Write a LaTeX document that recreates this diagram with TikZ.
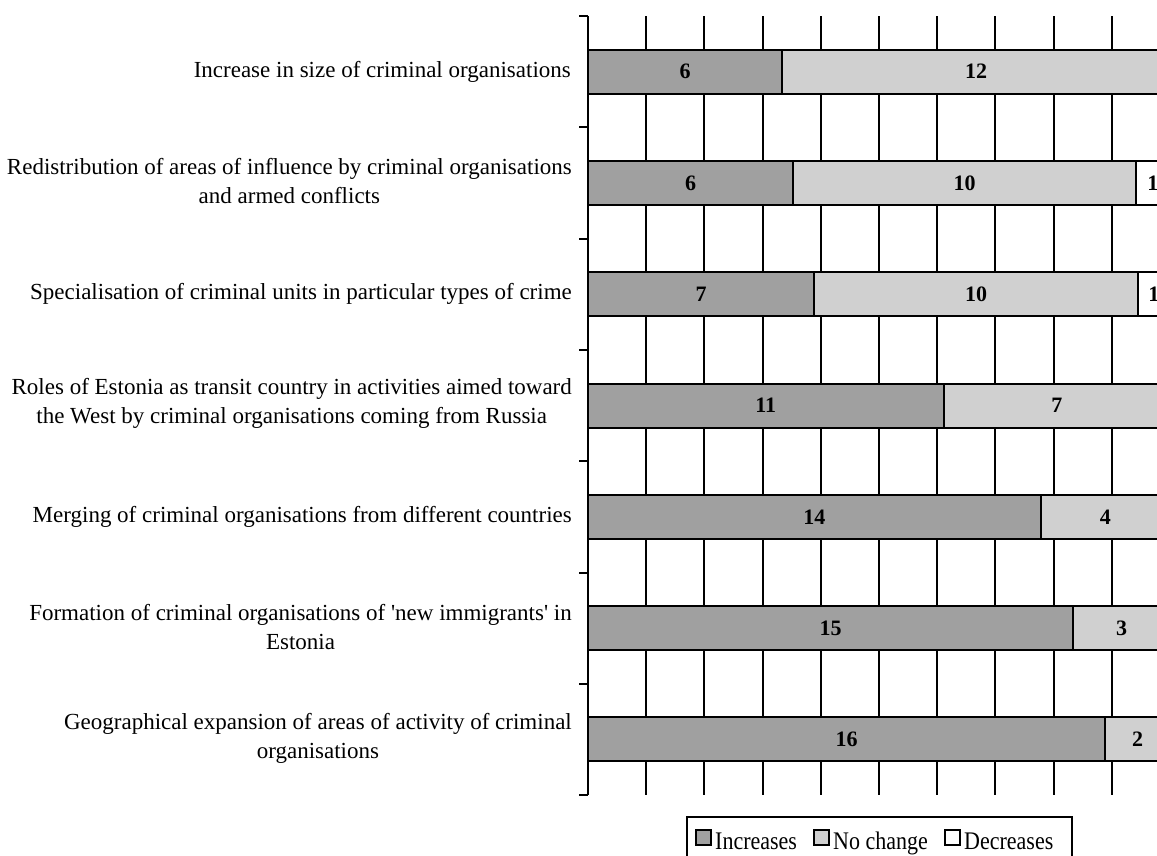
\documentclass[tikz,border=0pt]{standalone}
\usepackage{fontspec}
\setmainfont{Liberation Serif}
\usetikzlibrary{positioning}
\definecolor{incgray}{RGB}{160,160,160}
\definecolor{nochgray}{RGB}{208,208,208}
\newcommand{\legword}[1]{\scalebox{1}[1.15]{#1}}

\begin{document}
\begin{tikzpicture}[x=1pt, y=-1pt,
  catlabel/.style={anchor=east, align=center, inner sep=0pt, font=\fontsize{23}{29}\selectfont},
  barval/.style={inner sep=0pt, font=\fontsize{22}{26}\selectfont\bfseries},
  legtext/.style={anchor=base west, inner sep=0pt, font=\fontsize{22}{26}\selectfont},
  gridln/.style={line width=2pt},
  incbar/.style={fill=incgray, draw=black, line width=2pt},
  nochbar/.style={fill=nochgray, draw=black, line width=2pt},
  decbar/.style={fill=white, draw=black, line width=2pt}]
  \useasboundingbox (0,0) rectangle (1157,855);
  \clip (0,0) rectangle (1157,855);

  % --- grid lines and category axis ---
  \foreach \gx in {646.2,704.4,...,1171} \draw[gridln] (\gx,16) -- (\gx,795);
  \draw[gridln] (588,16) -- (588,795);
  \foreach \k in {0,...,7} \draw[gridln] (579,16+111.3*\k) -- (588,16+111.3*\k);

  % --- category labels ---
  \node[catlabel] (lab1) at (571,71.6) {Increase in size of criminal organisations};
  \node[catlabel] (lab2) at (572,181) {Redistribution of areas of influence by criminal organisations\\and armed conflicts};
  \node[catlabel] (lab3) at (572,294.2) {Specialisation of criminal units in particular types of crime};
  \node[catlabel] (lab4) at (572,403.5) {Roles of Estonia as transit country in activities aimed toward\\the West by criminal organisations coming from Russia};
  \node[catlabel] (lab5) at (572,516.8) {Merging of criminal organisations from different countries};
  \node[catlabel] (lab6) at (572,627) {Formation of criminal organisations of \textquotesingle new immigrants\textquotesingle\ in\\Estonia};
  \node[catlabel] (lab7) at (572,738) {Geographical expansion of areas of activity of criminal\\organisations};

  % --- bars (100 % stacked) ---
  \draw[incbar] (588,49.6) rectangle (782,93.6);
  \draw[nochbar] (782,49.6) rectangle (1170,93.6);
  \node[barval] (v1a) at (685,71.6) {6};
  \node[barval] (v1b) at (976,71.6) {12};

  \draw[incbar] (588,160.9) rectangle (793.4,204.9);
  \draw[nochbar] (793.4,160.9) rectangle (1135.8,204.9);
  \draw[decbar] (1135.8,160.9) rectangle (1170,204.9);
  \node[barval] (v2a) at (690.7,182.9) {6};
  \node[barval] (v2b) at (964.6,182.9) {10};
  \node[barval] (v2c) at (1152.9,182.9) {1};

  \draw[incbar] (588,272.2) rectangle (814.3,316.2);
  \draw[nochbar] (814.3,272.2) rectangle (1137.7,316.2);
  \draw[decbar] (1137.7,272.2) rectangle (1170,316.2);
  \node[barval] (v3a) at (701.2,294.2) {7};
  \node[barval] (v3b) at (976,294.2) {10};
  \node[barval] (v3c) at (1153.9,294.2) {1};

  \draw[incbar] (588,383.5) rectangle (943.7,427.5);
  \draw[nochbar] (943.7,383.5) rectangle (1170,427.5);
  \node[barval] (v4a) at (765.8,405.5) {11};
  \node[barval] (v4b) at (1056.8,405.5) {7};

  \draw[incbar] (588,494.8) rectangle (1040.7,538.8);
  \draw[nochbar] (1040.7,494.8) rectangle (1170,538.8);
  \node[barval] (v5a) at (814.3,516.8) {14};
  \node[barval] (v5b) at (1105.3,516.8) {4};

  \draw[incbar] (588,606.1) rectangle (1073,650.1);
  \draw[nochbar] (1073,606.1) rectangle (1170,650.1);
  \node[barval] (v6a) at (830.5,628.1) {15};
  \node[barval] (v6b) at (1121.5,628.1) {3};

  \draw[incbar] (588,717.4) rectangle (1105.3,761.4);
  \draw[nochbar] (1105.3,717.4) rectangle (1170,761.4);
  \node[barval] (v7a) at (846.7,739.4) {16};
  \node[barval] (v7b) at (1137.7,739.4) {2};

  % --- legend ---
  \draw[line width=2pt] (687,817) rectangle (1072,875);
  \draw[incbar] (696,830) rectangle (711,845);
  \node[legtext] (legInc) at (715,849) {\legword{Increases}};
  \draw[nochbar] (814,830) rectangle (829,845);
  \node[legtext] (legNoch) at (833,849) {\legword{No change}};
  \draw[decbar] (945,830) rectangle (960,845);
  \node[legtext] (legDec) at (964,849) {\legword{Decreases}};
\end{tikzpicture}
\end{document}
